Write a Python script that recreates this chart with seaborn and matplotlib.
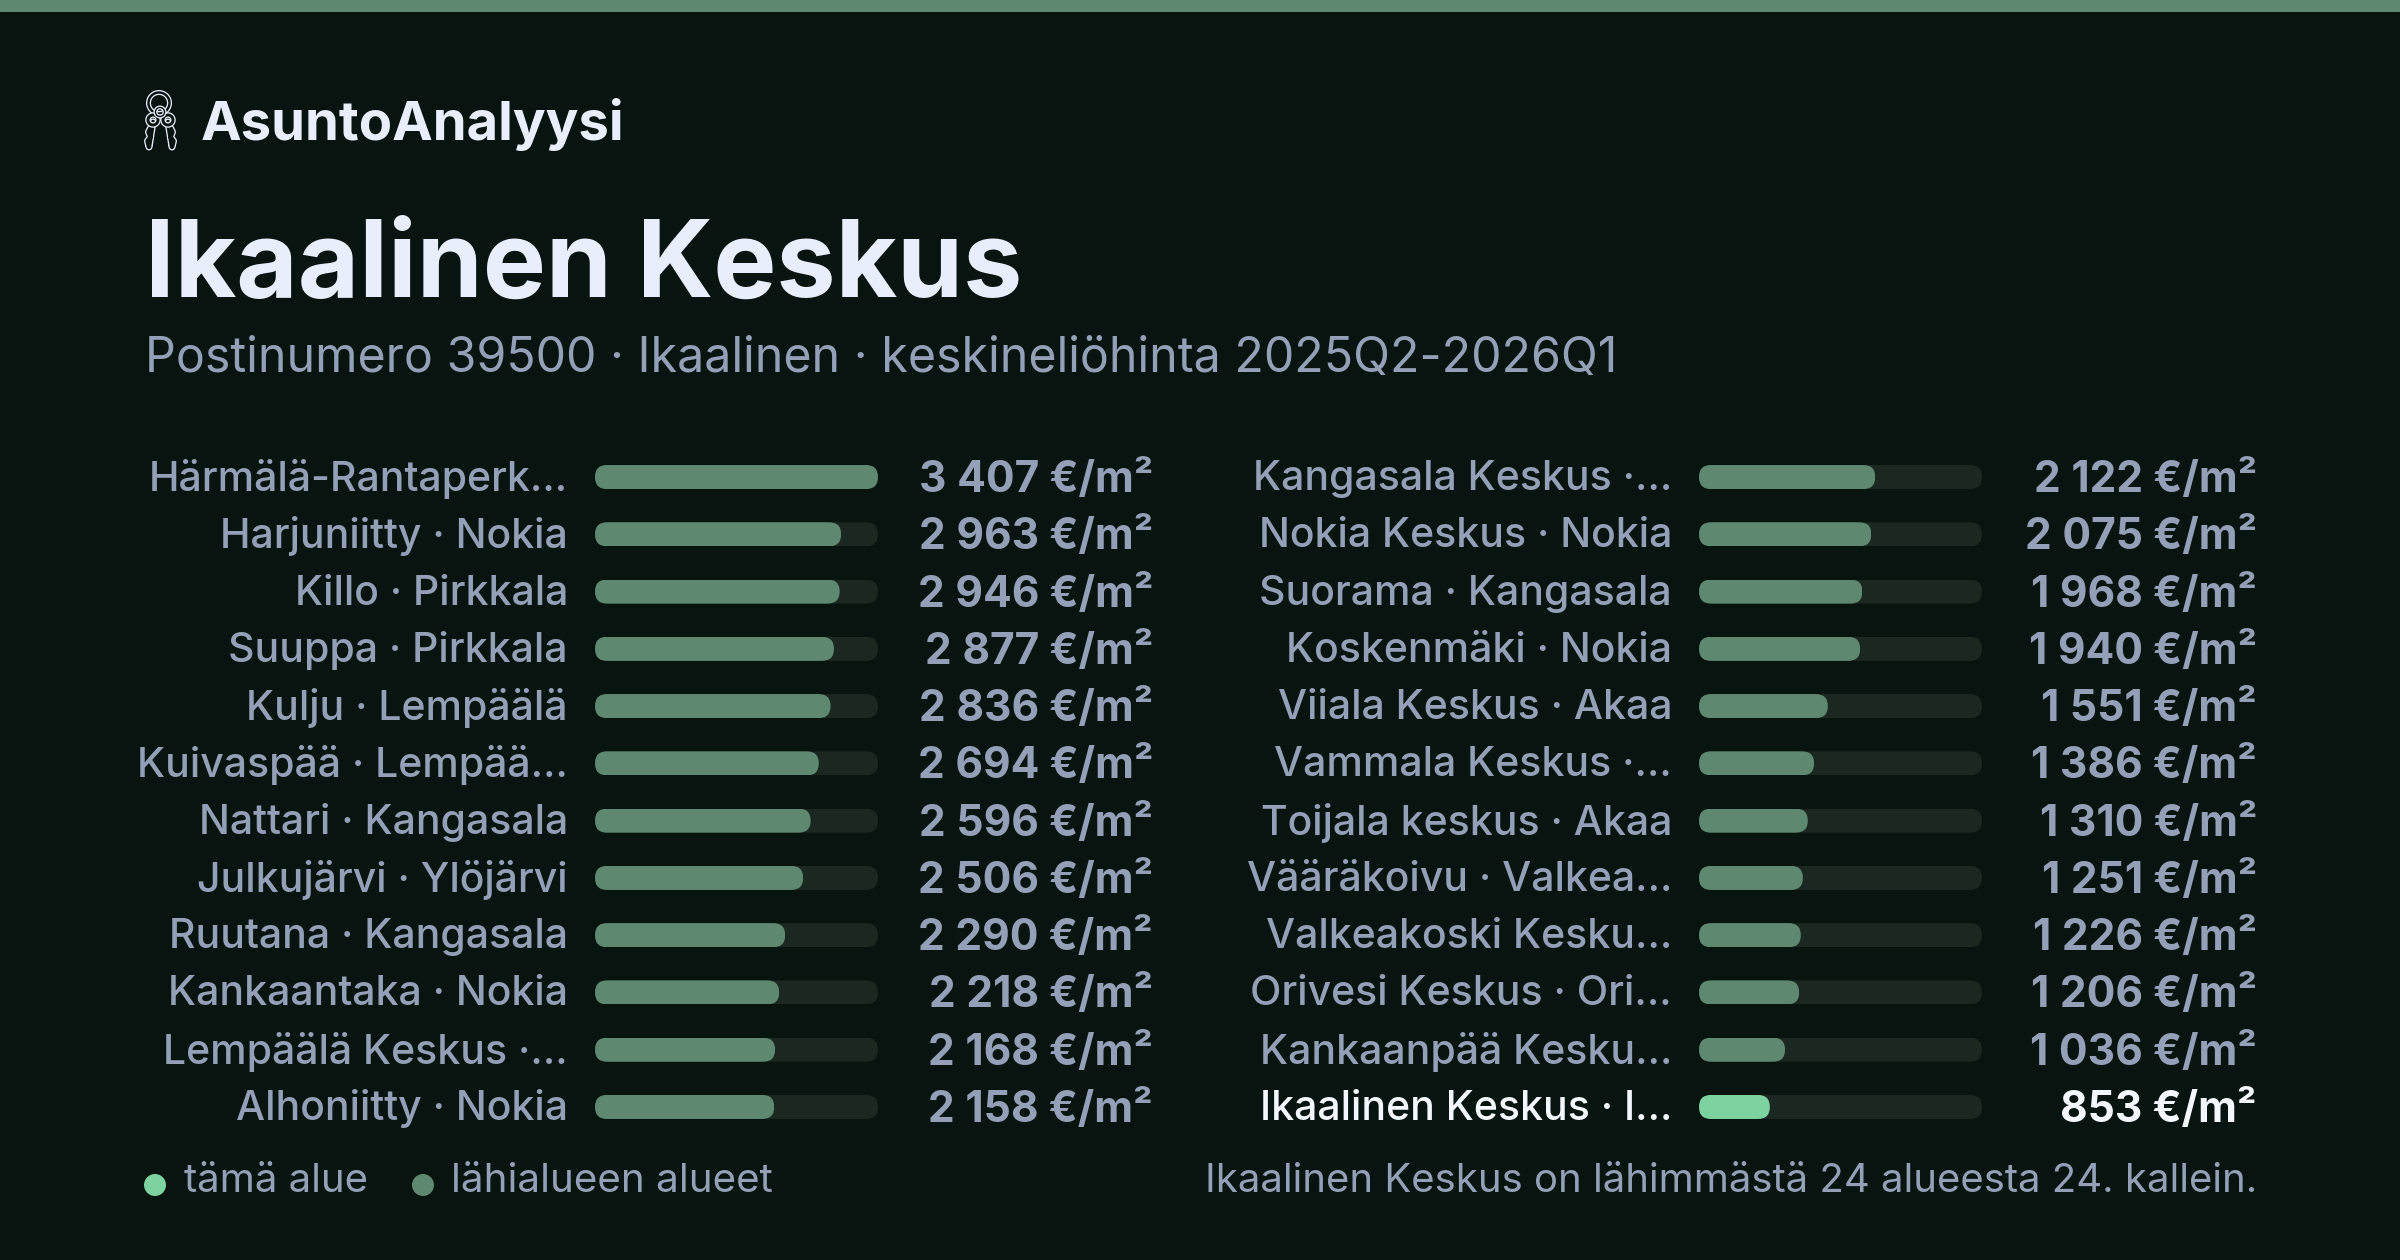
import matplotlib
matplotlib.use("Agg")
import matplotlib.pyplot as plt
import pandas as pd
import seaborn as sns
from matplotlib.patches import FancyBboxPatch, Circle
from matplotlib.transforms import Affine2D, IdentityTransform, ScaledTranslation

BG = "#08140f"
TRACK = "#1b2822"
NEAR = "#5f8870"
THIS = "#7dd3a0"
GREY = "#94a0b8"
TITLE = "#e8eefb"
WHITE = "#f4f7ff"
FONT = "Inter"

left_names = ["Härmälä-Rantaperk…", "Harjuniitty · Nokia", "Killo · Pirkkala", "Suuppa · Pirkkala",
              "Kulju · Lempäälä", "Kuivaspää · Lempää…", "Nattari · Kangasala", "Julkujärvi · Ylöjärvi",
              "Ruutana · Kangasala", "Kankaantaka · Nokia", "Lempäälä Keskus ·…", "Alhoniitty · Nokia"]
left_values = [3407, 2963, 2946, 2877, 2836, 2694, 2596, 2506, 2290, 2218, 2168, 2158]
right_names = ["Kangasala Keskus ·…", "Nokia Keskus · Nokia", "Suorama · Kangasala", "Koskenmäki · Nokia",
               "Viiala Keskus · Akaa", "Vammala Keskus ·…", "Toijala keskus · Akaa", "Vääräkoivu · Valkea…",
               "Valkeakoski Kesku…", "Orivesi Keskus · Ori…", "Kankaanpää Kesku…", "Ikaalinen Keskus · I…"]
right_values = [2122, 2075, 1968, 1940, 1551, 1386, 1310, 1251, 1226, 1206, 1036, 853]
this_area = "Ikaalinen Keskus · I…"
legend_labels = ["tämä alue", "lähialueen alueet"]
brand = "AsuntoAnalyysi"
title = "Ikaalinen Keskus"
subtitle = "Postinumero 39500 · Ikaalinen · keskineliöhinta 2025Q2-2026Q1"
summary = "Ikaalinen Keskus on lähimmästä 24 alueesta 24. kallein."

W, H = 2400, 1260
PT = 72 / 100  # points per pixel at dpi=100
sns.set_theme(style="dark", rc={"figure.facecolor": BG, "axes.facecolor": BG, "savefig.facecolor": BG})
plt.rcParams["font.family"] = [FONT, "DejaVu Sans"]

fig = plt.figure(figsize=(W / 100, H / 100), dpi=100)


def pax(x0, y0, x1, y1, **kw):
    return fig.add_axes([x0 / W, 1 - y1 / H, (x1 - x0) / W, (y1 - y0) / H], **kw)


over = pax(0, 0, W, H)
over.set_xlim(0, W)
over.set_ylim(H, 0)
over.axis("off")
over.set_zorder(5)
over.patch.set_alpha(0)

ROW_TOP, ROW_BOTTOM = 448.4, 1135.6
LABEL_SIZE = 41 * PT
VALUE_SIZE = 42.5 * PT
max_val = max(left_values)


def column(names, values, x0, x1):
    ax = pax(x0, ROW_TOP, x1, ROW_BOTTOM)
    df = pd.DataFrame({"area": names, "value": values})
    df["kind"] = ["this" if n == this_area else "near" for n in names]
    df["track"] = max_val
    sns.barplot(data=df, y="area", x="track", color=TRACK, saturation=1, width=0.42, ax=ax, zorder=1, linewidth=0)
    sns.barplot(data=df, y="area", x="value", hue="kind", hue_order=["near", "this"],
                palette={"near": NEAR, "this": THIS}, saturation=1, width=0.42, dodge=False,
                legend=False, ax=ax, zorder=2, linewidth=0)
    ax.set_xlim(0, max_val)
    ax.set_ylim(len(names) - 0.5, -0.5)
    ax.set_xlabel("")
    ax.set_ylabel("")
    ax.set_xticks([])
    ax.grid(False)
    sns.despine(ax=ax, left=True, bottom=True, top=True, right=True)
    ax.tick_params(axis="y", length=0, pad=27 * PT)
    up = ScaledTranslation(0, 2 / 100, fig.dpi_scale_trans)
    for lab, n in zip(ax.get_yticklabels(), names):
        lab.set_fontsize(LABEL_SIZE)
        lab.set_fontweight("medium")
        lab.set_color(WHITE if n == this_area else GREY)
        lab.set_transform(lab.get_transform() + up)
    for i, (n, v) in enumerate(zip(names, values)):
        txt = f"{v:,}".replace(",", "\u2005") + " €/m²"
        ax.annotate(txt, xy=(1, i), xycoords=("axes fraction", "data"),
                    xytext=(275 * PT, 1 * PT), textcoords="offset points",
                    ha="right", va="center_baseline", fontsize=VALUE_SIZE, fontweight="bold",
                    color=WHITE if n == this_area else GREY)
    # rounded ends: clip each real bar to a pill of its own size
    fig.canvas.draw()
    for p in ax.patches:
        if p.get_width() == 0 or p.get_height() == 0:
            continue
        (a, b), (c, d) = ax.transData.transform([(p.get_x(), p.get_y()), (p.get_x() + p.get_width(), p.get_y() + p.get_height())])
        xa, xb = sorted((a, c))
        ya, yb = sorted((b, d))
        r = (yb - ya) / 2
        clip = FancyBboxPatch((xa + r, ya + r), xb - xa - 2 * r, yb - ya - 2 * r,
                              boxstyle=f"round,pad={r},rounding_size={r}", transform=IdentityTransform())
        p.set_clip_path(clip.get_path(), Affine2D())
    return ax


column(left_names, left_values, 595, 878)
column(right_names, right_values, 1699, 1982)

# top band
over.fill_between([0, W], 0, 12, color=NEAR, lw=0)

# brand, title
over.text(201, 140, brand, fontsize=54.5 * PT, fontweight="bold", color=TITLE, va="baseline", ha="left")
over.text(145, 297, title, fontsize=106 * PT, fontweight="bold", color=TITLE, va="baseline", ha="left")
over.text(145, 372, subtitle, fontsize=48.3 * PT, color=GREY, va="baseline", ha="left")


# keys icon: outlined strokes (light stroke with a dark core)
def outlined(xs, ys, width, z=6):
    over.plot(xs, ys, color=TITLE, lw=width * PT, solid_capstyle="round", solid_joinstyle="round", zorder=z)
    over.plot(xs, ys, color=BG, lw=(width - 2.6) * PT, solid_capstyle="round", solid_joinstyle="round", zorder=z + 0.1)


def ring(cx, cy, rad, width, z=6):
    over.add_patch(Circle((cx, cy), rad, fill=False, ec=TITLE, lw=width * PT, zorder=z))
    over.add_patch(Circle((cx, cy), rad, fill=False, ec=BG, lw=(width - 2.6) * PT, zorder=z + 0.1))


ring(159, 103, 10.5, 5)
outlined([153, 149, 147.5, 150.5, 148.5, 150.5], [122, 147, 141, 137, 132, 128], 7, z=6.2)
ring(153, 120, 5, 5.5, z=6.4)
outlined([168, 172, 173.5, 170.5, 172.5, 170.5], [122, 147, 141, 137, 132, 128], 7, z=6.6)
ring(168, 120, 5, 5.5, z=6.8)
ring(160, 112, 4.5, 4, z=7)

# legend
over.scatter([155, 423], [1185, 1185], s=(22 * PT) ** 2, c=[THIS, NEAR], lw=0)
over.text(184, 1192, legend_labels[0], fontsize=40.2 * PT, color=GREY, va="baseline")
over.text(451, 1192, legend_labels[1], fontsize=40.4 * PT, color=GREY, va="baseline")
over.text(2257, 1192, summary, fontsize=40.1 * PT, color=GREY, va="baseline", ha="right")

fig.savefig("out.png", dpi=100)
